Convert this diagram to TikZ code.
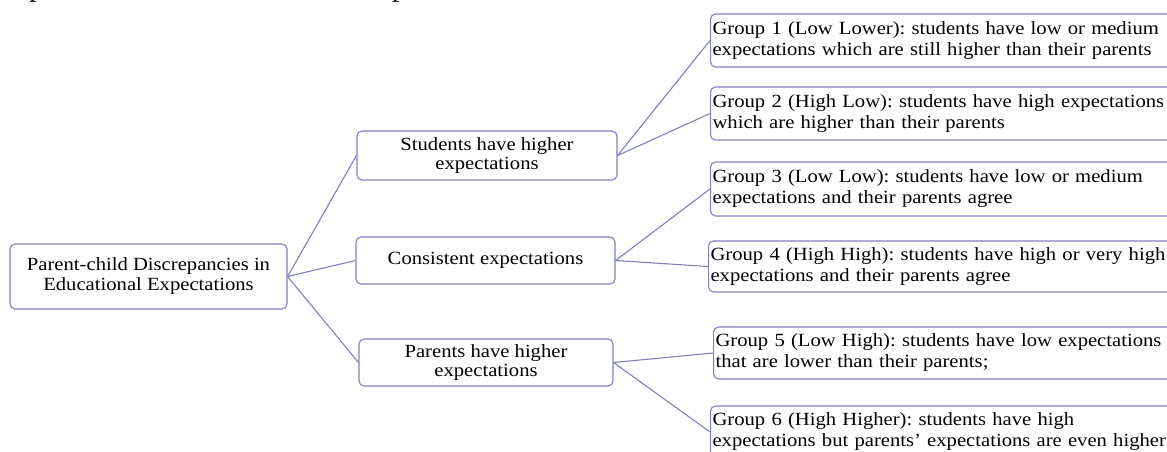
\documentclass[tikz,border=0pt]{standalone}
\usepackage{fontspec}
\setmainfont{Liberation Serif}[FakeStretch=1.11]
\frenchspacing
\definecolor{boxline}{RGB}{128,128,192}
\tikzset{
  basebox/.style={draw=boxline, line width=1.1pt, rounded corners=5pt, fill=white, inner sep=0pt, text=black},
  rootbox/.style={basebox, minimum width=277pt, minimum height=65pt, align=center, font=\fontsize{18.6}{20}\selectfont},
  midbox/.style={basebox, minimum width=259pt, minimum height=48pt, align=center, font=\fontsize{18.6}{18.5}\selectfont},
  grpbox/.style={basebox, anchor=west, minimum height=53pt, text width=480pt, inner xsep=2pt, align=left, font=\fontsize{18.6}{21}\selectfont},
  link/.style={draw=boxline, line width=1.1pt}
}
\begin{document}
\begin{tikzpicture}[x=1pt,y=-1pt]
\useasboundingbox (0,0) rectangle (1167,451);
\clip (0,0) rectangle (1167,451);
\fill[white] (0,0) rectangle (1167,451);
\node[anchor=south west, inner sep=0pt, font=\fontsize{27.5}{30}\selectfont] (cut) at (0,6) {\strut expectation level of these discrepancies.};
\node[rootbox] (root) at (148.5,276.5) {Parent-child Discrepancies in\\Educational Expectations};
\node[midbox, minimum width=260pt, minimum height=49pt] (m1) at (487,155.5) {Students have higher\\expectations};
\node[midbox, minimum height=47pt] (m2) at (485.5,260.5) {Consistent expectations};
\node[midbox, minimum width=254pt, minimum height=47pt] (m3) at (486,362.5) {Parents have higher\\expectations};
\node[grpbox] (g1) at (710,40.5) {Group 1 (Low Lower): students have low or medium\\expectations which are still higher than their parents};
\node[grpbox] (g2) at (710,113.5) {Group 2 (High Low): students have high expectations\\which are higher than their parents};
\node[grpbox, minimum height=54pt] (g3) at (710,189) {Group 3 (Low Low): students have low or medium\\expectations and their parents agree};
\node[grpbox, minimum height=51pt] (g4) at (708,266.5) {Group 4 (High High): students have high or very high\\expectations and their parents agree};
\node[grpbox, minimum height=52pt] (g5) at (713,353) {Group 5 (Low High): students have low expectations\\that are lower than their parents;};
\node[grpbox, minimum height=52pt] (g6) at (710,432) {Group 6 (High Higher): students have high\\expectations but parents’ expectations are even higher};
\draw[link] (root.east) -- (m1.west);
\draw[link] (root.east) -- (m2.west);
\draw[link] (root.east) -- (m3.west);
\draw[link] (m1.east) -- (g1.west);
\draw[link] (m1.east) -- (g2.west);
\draw[link] (m2.east) -- (g3.west);
\draw[link] (m2.east) -- (g4.west);
\draw[link] (m3.east) -- (g5.west);
\draw[link] (m3.east) -- (g6.west);
\end{tikzpicture}
\end{document}
